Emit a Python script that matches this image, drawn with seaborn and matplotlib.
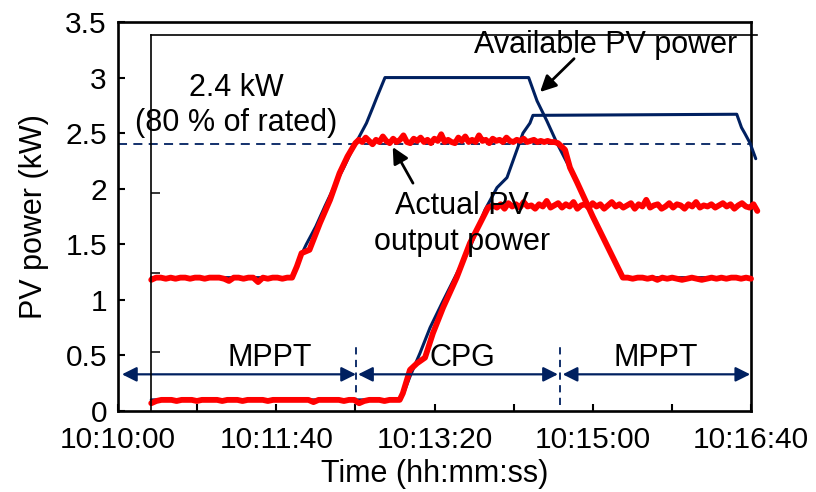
import numpy as np
import pandas as pd
import matplotlib
matplotlib.use("Agg")
import matplotlib.pyplot as plt
import seaborn as sns

# ---------------------------------------------------------------------------
# Data (time in seconds after 10:10:00, power in kW)
# ---------------------------------------------------------------------------
x_tick_seconds = [0, 100, 200, 300, 400]
x_tick_labels = ["10:10:00", "10:11:40", "10:13:20", "10:15:00", "10:16:40"]
y_ticks = [0, 0.5, 1, 1.5, 2, 2.5, 3, 3.5]
y_tick_labels = ["0", "0.5", "1", "1.5", "2", "2.5", "3", "3.5"]

power_limit = 2.4          # CPG set-point (80 % of rated)

# Available PV power, profile 1
avail_a_t = [21, 110, 114, 119, 125, 131, 137, 143, 148, 151, 157, 161, 163.5, 168.7,
             259.5, 264.8, 271, 277.4, 290, 300, 310, 319, 400]
avail_a_p = [1.20, 1.20, 1.35, 1.50, 1.66, 1.85, 2.03, 2.20, 2.35, 2.43, 2.59, 2.73, 2.82, 3.00,
             3.00, 2.79, 2.61, 2.41, 2.06, 1.75, 1.46, 1.20, 1.20]

# Available PV power, profile 2
avail_b_t = [21, 178, 181, 184.5, 190.8, 197.2, 205.4, 214.2, 222.4, 231.9, 239.5, 245.8,
             252.1, 255.9, 260.3, 262.2, 391, 394, 396, 399.4, 403]
avail_b_p = [0.10, 0.10, 0.18, 0.31, 0.52, 0.75, 0.99, 1.24, 1.47, 1.81, 2.01, 2.10,
             2.35, 2.50, 2.59, 2.66, 2.67, 2.55, 2.50, 2.41, 2.27]

# Actual PV output power, profile 1
out_a_mppt1 = [1.18, 1.20, 1.20, 1.19, 1.20, 1.19, 1.20, 1.20, 1.19, 1.20,
               1.20, 1.19, 1.20, 1.20, 1.20, 1.19, 1.17, 1.20, 1.20, 1.19,
               1.20, 1.20, 1.16, 1.20, 1.19, 1.20, 1.20, 1.19, 1.20, 1.20]
out_a_rise_t = [113, 116, 121, 127.6, 134, 140, 145]
out_a_rise_p = [1.30, 1.42, 1.45, 1.69, 1.90, 2.14, 2.29]
out_a_cpg = [2.41, 2.44, 2.42, 2.46, 2.43, 2.40, 2.44, 2.42, 2.47, 2.43,
             2.41, 2.45, 2.42, 2.44, 2.48, 2.42, 2.41, 2.45, 2.43, 2.46,
             2.42, 2.44, 2.41, 2.45, 2.43, 2.49, 2.42, 2.44, 2.42, 2.41,
             2.46, 2.43, 2.47, 2.42, 2.44, 2.42, 2.48, 2.43, 2.44, 2.41,
             2.45, 2.43, 2.44, 2.42, 2.46, 2.43, 2.42, 2.44, 2.43, 2.45,
             2.42, 2.43, 2.44, 2.42, 2.43, 2.42, 2.43, 2.42, 2.42, 2.41]
out_a_fall_t = [282.5, 285.6, 290, 300, 310]
out_a_fall_p = [2.35, 2.19, 2.06, 1.75, 1.46]
out_a_mppt2 = [1.20, 1.20, 1.19, 1.20, 1.20, 1.19, 1.20, 1.18, 1.20, 1.19,
               1.20, 1.19, 1.18, 1.19, 1.20, 1.19, 1.18, 1.19, 1.20, 1.19,
               1.20, 1.19, 1.20, 1.20, 1.19, 1.20, 1.19]

# Actual PV output power, profile 2
out_b_mppt = [0.07, 0.09, 0.10, 0.10, 0.10, 0.09, 0.10, 0.10, 0.10, 0.09,
              0.10, 0.10, 0.10, 0.10, 0.09, 0.10, 0.10, 0.10, 0.09, 0.10,
              0.10, 0.10, 0.10, 0.09, 0.10, 0.10, 0.10, 0.10, 0.10, 0.10,
              0.10, 0.10, 0.08, 0.10, 0.10, 0.10, 0.10, 0.10, 0.09, 0.10,
              0.10, 0.07, 0.09, 0.10, 0.10, 0.10, 0.09, 0.10, 0.10, 0.10]
out_b_rise_t = [180, 184.5, 189, 194, 199, 205.4, 214, 222.4, 228.8, 233.8]
out_b_rise_p = [0.16, 0.37, 0.43, 0.48, 0.70, 0.93, 1.20, 1.51, 1.69, 1.83]
out_b_flat = [1.85, 1.83, 1.86, 1.82, 1.87, 1.84, 1.86, 1.83, 1.88, 1.84,
              1.85, 1.82, 1.86, 1.84, 1.89, 1.83, 1.85, 1.87, 1.83, 1.86,
              1.84, 1.88, 1.82, 1.85, 1.86, 1.83, 1.87, 1.84, 1.86, 1.82,
              1.85, 1.88, 1.84, 1.86, 1.83, 1.85, 1.87, 1.82, 1.86, 1.84,
              1.90, 1.83, 1.85, 1.86, 1.82, 1.84, 1.87, 1.83, 1.86, 1.85,
              1.82, 1.86, 1.84, 1.88, 1.83, 1.85, 1.84, 1.86, 1.83, 1.85,
              1.87, 1.84, 1.86, 1.82, 1.85, 1.87, 1.84, 1.83, 1.86, 1.80]

# Operating-mode intervals (s) and their labels
mode_bounds = [(2.5, 150.4), (151.7, 278.0), (281.0, 399.5)]
mode_labels = ["MPPT", "CPG", "MPPT"]
mode_label_t = [96, 217.4, 340]
mode_switch_t = [150.4, 279.3]

# ---------------------------------------------------------------------------
# Assemble sampled traces (logger samples at a regular interval in each segment)
# ---------------------------------------------------------------------------
out_a_t = np.concatenate([np.linspace(21, 110, len(out_a_mppt1)), out_a_rise_t,
                          np.linspace(150, 278, len(out_a_cpg)), out_a_fall_t,
                          np.linspace(319, 400, len(out_a_mppt2))])
out_a_p = np.concatenate([out_a_mppt1, out_a_rise_p, out_a_cpg, out_a_fall_p, out_a_mppt2])

out_b_t = np.concatenate([np.linspace(21, 178, len(out_b_mppt)), out_b_rise_t,
                          np.linspace(237, 404, len(out_b_flat))])
out_b_p = np.concatenate([out_b_mppt, out_b_rise_p, out_b_flat])

traces = pd.concat([
    pd.DataFrame({"t": avail_a_t, "P": avail_a_p, "trace": "avail_a"}),
    pd.DataFrame({"t": avail_b_t, "P": avail_b_p, "trace": "avail_b"}),
    pd.DataFrame({"t": out_a_t, "P": out_a_p, "trace": "out_a"}),
    pd.DataFrame({"t": out_b_t, "P": out_b_p, "trace": "out_b"}),
], ignore_index=True)

# ---------------------------------------------------------------------------
# Styling
# ---------------------------------------------------------------------------
sns.set_style("white")
plt.rcParams["font.family"] = ["Liberation Sans", "DejaVu Sans"]
plt.rcParams["text.color"] = "black"
plt.rcParams["axes.labelcolor"] = "black"
FS = 22
TICK_FS = 21.5
NAVY = "#002060"
RED = "#ff0000"

fig = plt.figure(figsize=(8.16, 4.92), dpi=100)
ax = fig.add_axes([0.14461, 0.16463, 0.77574, 0.79065])
ax.set_facecolor("white")

# CPG limit
ax.axhline(power_limit, color=NAVY, lw=1.3, ls=(0, (5, 3.5)), zorder=1)

styles = {"avail_a": (NAVY, 2.2), "avail_b": (NAVY, 2.2),
          "out_a": (RED, 4.2), "out_b": (RED, 4.2)}
for name in ["avail_a", "avail_b", "out_a", "out_b"]:
    color, lw = styles[name]
    sub = traces[traces["trace"] == name]
    sns.lineplot(data=sub, x="t", y="P", ax=ax, color=color, lw=lw,
                 estimator=None, sort=False, legend=False, zorder=3)
    ax.lines[-1].set_clip_on(False)
    ax.lines[-1].set_solid_joinstyle("round")

ax.set_xlim(0, 400)
ax.set_ylim(0, 3.5)
ax.set_xticks(x_tick_seconds)
ax.set_xticklabels(x_tick_labels)
ax.set_xticks([50, 150, 250, 350], minor=True)
ax.set_yticks(y_ticks)
ax.set_yticklabels(y_tick_labels)
ax.tick_params(axis="both", which="both", direction="in", length=5, width=1.5,
               color="black", labelsize=TICK_FS, labelcolor="black")
ax.tick_params(axis="y", pad=8)
ax.tick_params(axis="x", pad=11)
ax.tick_params(axis="y", which="minor", left=False)
ax.tick_params(bottom=True, left=True, which="both")
for s in ax.spines.values():
    s.set_visible(True)
    s.set_color("black")
    s.set_linewidth(1.9)

ax.set_xlabel("Time (hh:mm:ss)", fontsize=FS, labelpad=3.5, color="black")
ax.set_ylabel("PV power (kW)", fontsize=FS, labelpad=12, color="black")

# Mode intervals
for (a, b), lab, lt in zip(mode_bounds, mode_labels, mode_label_t):
    ax.annotate("", xy=(b, 0.33), xytext=(a, 0.33),
                arrowprops=dict(arrowstyle="<|-|>", color=NAVY, lw=1.6,
                                mutation_scale=22, shrinkA=0, shrinkB=0),
                annotation_clip=False)
    ax.text(lt, 0.48, lab, ha="center", va="center", fontsize=FS, color="black")
for st in mode_switch_t:
    ax.plot([st, st], [0.05, 0.58], color=NAVY, lw=1.3, ls=(0, (4, 3)), zorder=2)

# Text annotations
ax.text(74.6, 2.75, "2.4 kW\n(80 % of rated)", ha="center", va="center",
        fontsize=FS, linespacing=1.2, zorder=4, color="black")
ax.text(308.4, 3.29, "Available PV power", ha="center", va="center", fontsize=FS,
        zorder=4, color="black")
ax.annotate("", xy=(266.7, 2.87), xytext=(288.2, 3.17),
            arrowprops=dict(arrowstyle="-|>", color="black", lw=2,
                            mutation_scale=24, shrinkA=0, shrinkB=0), zorder=5)
ax.text(217.4, 1.68, "Actual PV\noutput power", ha="center", va="center",
        fontsize=FS, linespacing=1.25, zorder=4, color="black")
ax.annotate("", xy=(173.6, 2.375), xytext=(186.4, 2.05),
            arrowprops=dict(arrowstyle="-|>", color="black", lw=2,
                            mutation_scale=24, shrinkA=0, shrinkB=0), zorder=5)

# Inner plot-area frame (left and top border with its own ticks)
inner = fig.add_axes([0.18505, 0.16463, 0.74265, 0.76423])
inner.patch.set_alpha(0)
inner.set_xlim(0, 1)
inner.set_ylim(-0.74, 3.99)
inner.set_xticks([])
inner.set_yticks([0, 1, 2])
inner.tick_params(axis="y", direction="in", length=6.5, width=1.1, labelleft=False,
                  left=True, color="black")
for side in ["right", "bottom"]:
    inner.spines[side].set_visible(False)
for side in ["left", "top"]:
    inner.spines[side].set_visible(True)
    inner.spines[side].set_color("black")
    inner.spines[side].set_linewidth(1.2)

fig.savefig("out.png", dpi=100)
